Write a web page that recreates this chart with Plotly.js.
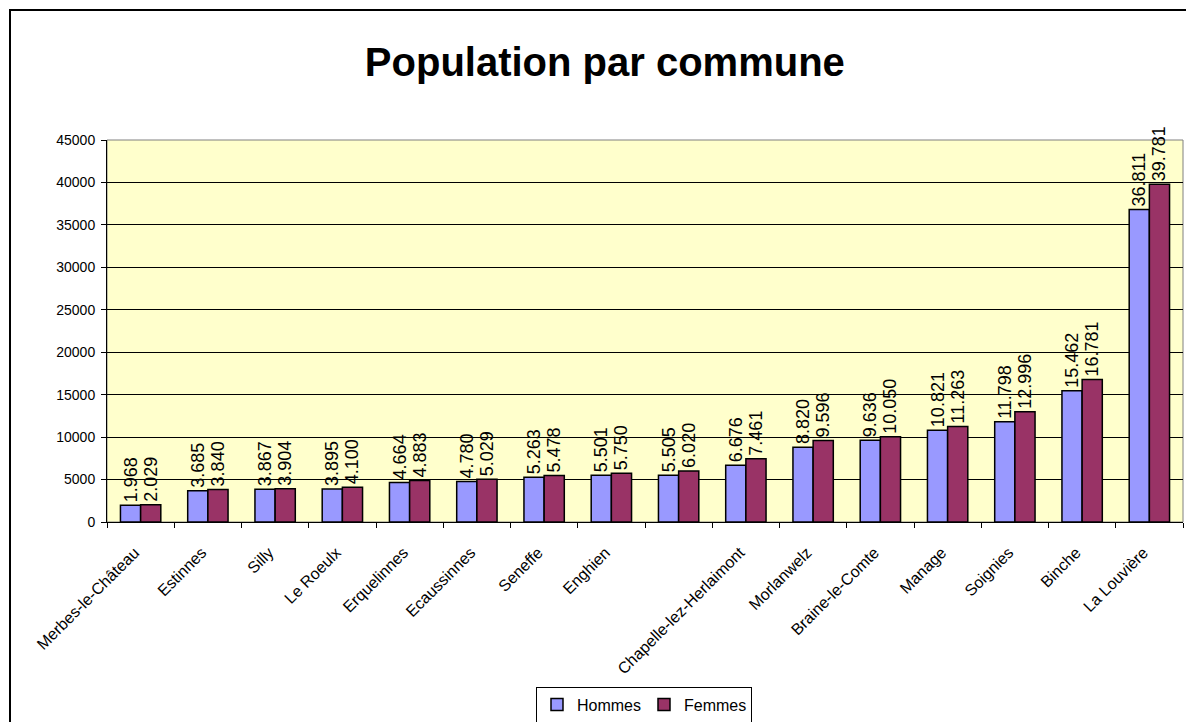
<!DOCTYPE html>
<html>
<head>
<meta charset="utf-8">
<script src="https://cdn.plot.ly/plotly-3.0.1.min.js"></script>
<style>
html,body{margin:0;padding:0;background:#fff;overflow:hidden;}
#frame{position:absolute;left:9px;top:9px;width:1200px;height:740px;border:2px solid #000;box-sizing:border-box;pointer-events:none;}
#chart{position:absolute;left:0;top:0;width:1186px;height:722px;}
</style>
</head>
<body>
<div id="chart"></div>
<div id="frame"></div>
<script>
// Category labels as shown (the 9th category has no visible label in the reference)
const communes = ["Merbes-le-Château","Estinnes","Silly","Le Roeulx","Erquelinnes","Ecaussinnes","Seneffe","Enghien"," ","Chapelle-lez-Herlaimont","Morlanwelz","Braine-le-Comte","Manage","Soignies","Binche","La Louvière"];
const hommes = [1968,3685,3867,3895,4664,4780,5263,5501,5505,6676,8820,9636,10821,11798,15462,36811];
const femmes = [2029,3840,3904,4100,4883,5029,5478,5750,6020,7461,9596,10050,11263,12996,16781,39781];
const yTickVals = [0,5000,10000,15000,20000,25000,30000,35000,40000,45000];
const yTickLabels = ["0","5000","10000","15000","20000","25000","30000","35000","40000","45000"];

const FONT = "Arial, 'Liberation Sans', sans-serif";

function barTrace(name, values, color) {
  return {
    type: "bar",
    name: name,
    x: communes,
    y: values,
    marker: {color: color, line: {color: "#000", width: 1.5}},
    texttemplate: "%{y:,d}",
    textposition: "outside",
    textangle: -90,
    constraintext: "none",
    cliponaxis: false,
    textfont: {family: FONT, size: 18, color: "#000"},
    hoverinfo: "x+y"
  };
}

const data = [
  barTrace("Hommes", hommes, "#9999FF"),
  barTrace("Femmes", femmes, "#993366")
];

const layout = {
  width: 1186,
  height: 722,
  separators: ",.",
  margin: {l: 107, r: 3, t: 140, b: 200, autoexpand: false},
  paper_bgcolor: "rgba(0,0,0,0)",
  plot_bgcolor: "#FFFFCC",
  font: {family: FONT, color: "#000"},
  title: {
    text: "<b>Population par commune</b>",
    font: {family: FONT, size: 40, color: "#000"},
    xref: "container", x: 0.51, xanchor: "center",
    yref: "container", y: 0.914, yanchor: "middle"
  },
  barmode: "group",
  bargap: 0.4,
  bargroupgap: 0,
  showlegend: true,
  legend: {
    orientation: "h",
    xref: "container", x: 0.543, xanchor: "center",
    yref: "container", y: 0.049, yanchor: "top",
    bordercolor: "#000", borderwidth: 1,
    bgcolor: "#fff",
    font: {family: FONT, size: 16, color: "#000"},
    itemwidth: 30,
    entrywidth: 62,
    entrywidthmode: "pixels"
  },
  xaxis: {
    type: "category",
    automargin: false,
    tickangle: -45,
    tickson: "boundaries",
    ticks: "outside",
    ticklen: 5,
    tickcolor: "#000",
    showline: true,
    linecolor: "#000",
    linewidth: 1,
    showgrid: false,
    ticklabelstandoff: 14,
    ticklabelshift: -6,
    tickfont: {family: FONT, size: 16, color: "#000"},
    fixedrange: true
  },
  yaxis: {
    range: [0, 45000],
    automargin: false,
    tickmode: "array",
    tickvals: yTickVals,
    ticktext: yTickLabels,
    ticks: "outside",
    ticklen: 5,
    tickcolor: "#000",
    showline: true,
    linecolor: "#000",
    linewidth: 1,
    showgrid: true,
    gridcolor: "#000",
    gridwidth: 1,
    zeroline: false,
    ticklabelstandoff: 3,
    tickfont: {family: FONT, size: 14, color: "#000"},
    fixedrange: true
  },
  shapes: [
    {type: "rect", xref: "paper", yref: "paper", x0: 0, x1: 1, y0: 0, y1: 1,
     line: {color: "#808080", width: 1}, layer: "below", fillcolor: "rgba(0,0,0,0)"}
  ]
};

Plotly.newPlot("chart", data, layout, {displayModeBar: false, staticPlot: true});
</script>
</body>
</html>
